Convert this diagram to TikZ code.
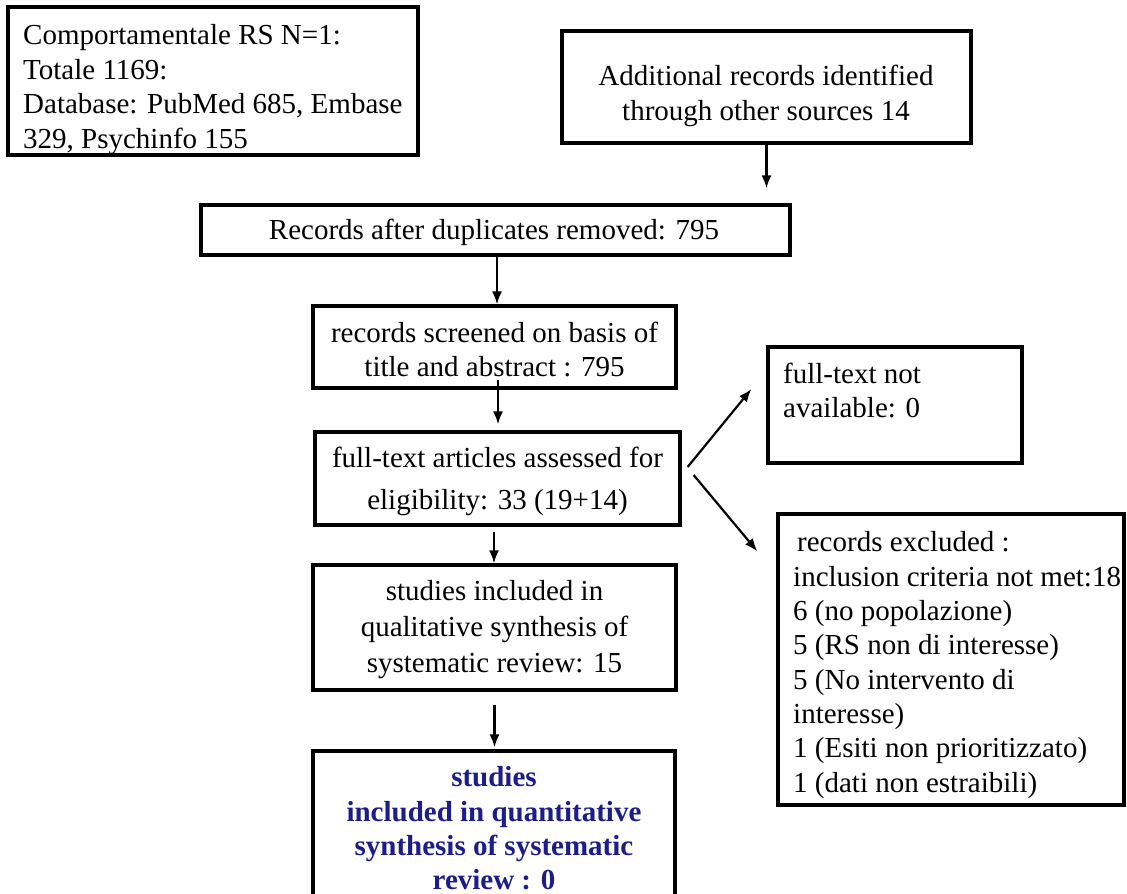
\documentclass[tikz,border=0pt]{standalone}
\usepackage{fontspec}
\setmainfont{Liberation Serif}
\usetikzlibrary{arrows.meta}
\definecolor{navy}{RGB}{28,28,140}
\tikzset{
  box/.style={draw, rectangle, line width=3.2pt, inner sep=0pt},
  txt/.style={inner sep=0pt, font=\fontsize{29}{34.5}\selectfont},
  arr/.style={line width=2.2pt, -{Latex[length=13pt,width=10pt]}}
}
\begin{document}
\begin{tikzpicture}[x=1pt,y=-1pt]
\useasboundingbox (0,0) rectangle (1127,894);
\clip (0,0) rectangle (1127,894);

% frames
\node[box, minimum width=410, minimum height=148] (b1) at (213,81) {};
\node[box, minimum width=409, minimum height=112] (b2) at (766.5,87) {};
\node[box, minimum width=589, minimum height=50]  (b3) at (495.5,230) {};
\node[box, minimum width=363, minimum height=82]  (b4) at (494.5,347) {};
\node[box, minimum width=365, minimum height=93]  (b5) at (497.5,478.5) {};
\node[box, minimum width=254, minimum height=116] (b6) at (895,405) {};
\node[box, minimum width=346, minimum height=291] (b7) at (951,659.5) {};
\node[box, minimum width=363, minimum height=125] (b8) at (494.5,627.5) {};
\node[box, minimum width=362, minimum height=174] (b9) at (494,838) {};

% texts
\node[txt, anchor=west, align=left] (t1) at (23,89.5)
  {Comportamentale RS N=1:\\Totale 1169:\\Database: PubMed 685, Embase\\329, Psychinfo 155};
\node[txt, align=center] (t2) at (766,96)
  {Additional records identified\\through other sources 14};
\node[txt, align=center] (t3) at (494,232)
  {Records after duplicates removed: 795};
\node[txt, align=center] (t4) at (494.5,349.5)
  {records screened on basis of\\title and abstract : 795};
\node[txt, align=center, font=\fontsize{29}{42}\selectfont] (t5) at (497.5,481)
  {full-text articles assessed for\\eligibility: 33 (19+14)};
\node[txt, anchor=west, align=left] (t6) at (783,390.5)
  {full-text not\\available: 0};
\node[txt, anchor=west, align=left, font=\fontsize{29}{34.3}\selectfont] (t7) at (793,665)
  {\hspace{4pt}records excluded :\\inclusion criteria not met:18\\6 (no popolazione)\\5 (RS non di interesse)\\5 (No intervento di\\interesse)\\1 (Esiti non prioritizzato)\\1 (dati non estraibili)};
\node[txt, align=center, font=\fontsize{29}{36}\selectfont] (t8) at (494.5,630)
  {studies included in\\qualitative synthesis of\\systematic review: 15};
\node[txt, align=center, text=navy, font=\fontsize{29}{34.3}\selectfont\bfseries] (t9) at (494,828.5)
  {studies\\included in quantitative\\synthesis of systematic\\review : 0};

% connectors
\draw[arr, shorten >=15pt] (b2.south) -- (b2.south |- b3.north);
\draw[arr] ([xshift=1.5pt]b3.south) -- ([xshift=1.5pt]b3.south |- b4.north);
\draw[arr, shorten <=-10pt, shorten >=6pt] ([xshift=3.5pt]b4.south) -- ([xshift=3.5pt]b4.south |- b5.north);
\draw[arr, shorten <=5pt] ([xshift=-3.5pt]b5.south) -- ([xshift=-3.5pt]b5.south |- b8.north);
\draw[arr, shorten <=13pt, shorten >=2pt] (b8.south) -- (b8.south |- b9.north);
\draw[arr] ([shift={(6pt,11.5pt)}]b5.east) -- ([shift={(-15pt,16pt)}]b6.west);
\draw[arr] ([shift={(12pt,3.5pt)}]b5.east) -- ([shift={(-19pt,-39pt)}]b7.north west);
\end{tikzpicture}
\end{document}
